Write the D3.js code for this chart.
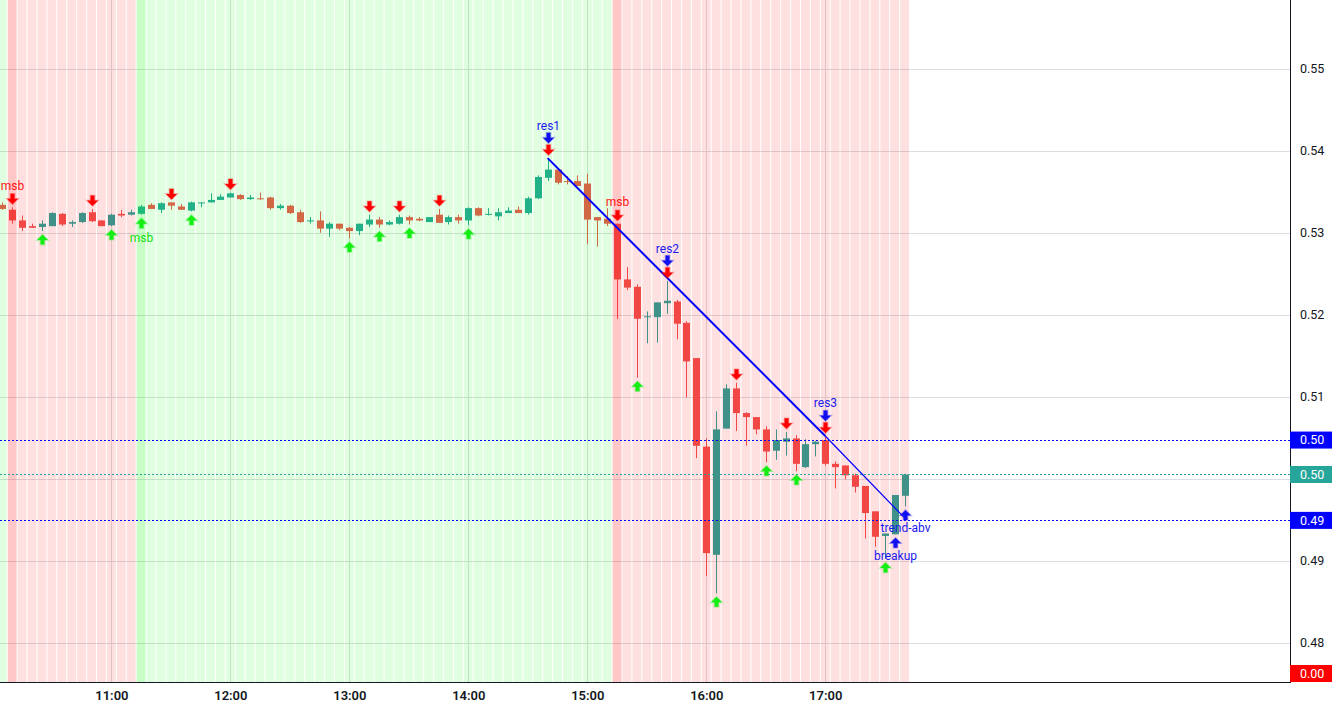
<!DOCTYPE html>
<html><head><meta charset="utf-8">
<script src="https://cdn.jsdelivr.net/npm/d3@7"></script>
<style>
html,body{margin:0;padding:0;background:#fff;}
svg{display:block;font-family:Roboto,"Noto Sans",sans-serif;}
</style>
</head><body>
<svg id="c" width="1338" height="710"></svg>
<script>
// ---------------- DATA ----------------
const firstBar = "2024-01-02 10:05";
const barMinutes = 5;
const opens = [
0.5334,0.5328,0.5315,0.5308,0.5307,0.5308,0.5323,0.5311,0.5313,0.5325,
0.5315,0.5309,0.5323,0.5322,0.5323,0.5334,0.5328,0.5337,0.5332,0.5327,
0.5336,0.5337,0.5340,0.5343,0.5346,0.5341,0.5342,0.5343,0.5330,0.5333,
0.5325,0.5314,0.5315,0.5305,0.5311,0.5306,0.5302,0.5310,0.5316,0.5310,
0.5311,0.5319,0.5317,0.5313,0.5322,0.5313,0.5319,0.5315,0.5330,0.5322,
0.5320,0.5324,0.5328,0.5324,0.5342,0.5367,0.5377,0.5363,0.5363,0.5360,
0.5319,0.5317,0.5311,0.5243,0.5234,0.5197,0.5197,0.5214,0.5216,0.5190,
0.5147,0.5039,0.4907,0.5061,0.5110,0.5080,0.5075,0.5060,0.5034,0.5045,
0.5049,0.5014,0.5042,0.5047,0.5018,0.5016,0.5004,0.4991,0.4960,0.4930,
0.4932,0.4979];
const highs = [
0.5337,0.5331,0.5321,0.5311,0.5315,0.5325,0.5324,0.5315,0.5325,0.5329,
0.5315,0.5323,0.5328,0.5328,0.5334,0.5336,0.5337,0.5337,0.5335,0.5338,
0.5337,0.5348,0.5347,0.5349,0.5347,0.5346,0.5349,0.5344,0.5335,0.5334,
0.5328,0.5319,0.5326,0.5313,0.5311,0.5307,0.5311,0.5322,0.5319,0.5315,
0.5322,0.5321,0.5319,0.5319,0.5329,0.5321,0.5322,0.5331,0.5331,0.5330,
0.5330,0.5331,0.5332,0.5344,0.5370,0.5391,0.5377,0.5369,0.5370,0.5372,
0.5319,0.5330,0.5311,0.5258,0.5237,0.5204,0.5215,0.5241,0.5218,0.5192,
0.5147,0.5049,0.5082,0.5115,0.5117,0.5081,0.5075,0.5064,0.5060,0.5057,
0.5053,0.5048,0.5046,0.5052,0.5021,0.5016,0.5006,0.4991,0.4960,0.4933,
0.4980,0.5006];
const lows = [
0.5328,0.5311,0.5302,0.5306,0.5302,0.5308,0.5308,0.5307,0.5312,0.5313,
0.5308,0.5308,0.5319,0.5321,0.5322,0.5329,0.5324,0.5328,0.5328,0.5326,
0.5331,0.5337,0.5340,0.5343,0.5340,0.5340,0.5340,0.5328,0.5328,0.5323,
0.5312,0.5311,0.5300,0.5295,0.5303,0.5293,0.5297,0.5307,0.5306,0.5309,
0.5310,0.5310,0.5314,0.5313,0.5312,0.5310,0.5311,0.5309,0.5320,0.5321,
0.5315,0.5324,0.5324,0.5322,0.5341,0.5363,0.5359,0.5359,0.5357,0.5286,
0.5283,0.5308,0.5195,0.5230,0.5123,0.5165,0.5166,0.5201,0.5170,0.5099,
0.5025,0.4881,0.4860,0.5061,0.5058,0.5040,0.5054,0.5020,0.5023,0.5028,
0.5009,0.5013,0.5027,0.5016,0.4988,0.4999,0.4983,0.4927,0.4917,0.4902,
0.4932,0.4966];
const closes = [
0.5329,0.5315,0.5306,0.5306,0.5311,0.5324,0.5310,0.5313,0.5324,0.5314,
0.5308,0.5322,0.5321,0.5325,0.5332,0.5329,0.5336,0.5333,0.5328,0.5337,
0.5337,0.5340,0.5344,0.5348,0.5341,0.5343,0.5341,0.5330,0.5333,0.5324,
0.5313,0.5315,0.5305,0.5311,0.5305,0.5302,0.5311,0.5316,0.5310,0.5313,
0.5319,0.5315,0.5315,0.5319,0.5312,0.5319,0.5315,0.5330,0.5321,0.5323,
0.5325,0.5327,0.5324,0.5342,0.5368,0.5377,0.5361,0.5362,0.5357,0.5316,
0.5315,0.5311,0.5243,0.5233,0.5195,0.5198,0.5215,0.5217,0.5189,0.5143,
0.5040,0.4909,0.5060,0.5110,0.5080,0.5075,0.5060,0.5033,0.5047,0.5049,
0.5018,0.5042,0.5045,0.5018,0.5014,0.5004,0.4990,0.4958,0.4929,0.4933,
0.4980,0.5005];

// background regime: bar index where each zone starts, its direction, and whether the start bar is highlighted
const zoneStart = [0, 1, 14, 62];
const zoneDir = ["up", "down", "up", "down"];
const zoneFlash = [false, true, true, true];

// signal markers (bar indices)
const redDownBars = [1, 9, 17, 23, 37, 40, 44, 55, 62, 67, 74, 79, 83];
const greenUpBars = [4, 11, 14, 19, 35, 38, 41, 47, 64, 72, 77, 80, 89];
const resBars = [55, 67, 83];
const resLabels = ["res1", "res2", "res3"];
const msbDownBars = [1, 62];
const msbUpBars = [14];
const blueUpBars = [90, 91];
const blueUpLabels = ["breakup", "trend-abv"];

// trend line anchors
const trendBars = [55, 83, 91];
const trendPrices = [0.5391, 0.5052, 0.4952];

// horizontal price levels
const levelValues = [0.5047, 0.5005, 0.4949, 0.0];
const levelKinds = ["blue", "teal", "blue", "red"];

const yTicks = [0.55, 0.54, 0.53, 0.52, 0.51, 0.50, 0.49, 0.48];
const timeTicks = ["11:00", "12:00", "13:00", "14:00", "15:00", "16:00", "17:00"];

// ---------------- LAYOUT ----------------
const W = 1338, H = 710;
const plotW = 1290, plotH = 682;
const barStep = 9.915, firstBarX = 2.3;
const colors = {up: "#26a69a", down: "#ef5350", blue: "#0000ff", teal: "#26a69a", red: "#ff0000",
  arrowRed: "#ff0000", arrowGreen: "#14ee14", arrowBlue: "#1010f0",
  textRed: "#ff1010", textGreen: "#10e010", textBlue: "#1a1af0", axis: "#131722", grid: "#dcdde0"};

const svg = d3.select("#c");
const parse = d3.timeParse("%Y-%m-%d %H:%M");
const t0 = parse(firstBar);
const n = closes.length;
const times = d3.range(n).map(i => d3.timeMinute.offset(t0, i * barMinutes));
const msPerPx = barMinutes * 60000 / barStep;
const x = d3.scaleTime()
  .domain([new Date(+t0 - firstBarX * msPerPx), new Date(+t0 + (plotW - firstBarX) * msPerPx)])
  .range([0, plotW]);
const y = d3.scaleLinear().domain([0.48, 0.55]).range([642.5, 68.8]);
const xi = i => x(times[i]);

svg.append("rect").attr("width", W).attr("height", H).attr("fill", "#fff");
const defs = svg.append("defs");
defs.append("clipPath").attr("id", "plot").append("rect").attr("width", plotW).attr("height", plotH);
const plot = svg.append("g").attr("clip-path", "url(#plot)");

// grid
const dayStr = firstBar.slice(0, 10);
const tickDates = timeTicks.map(s => parse(dayStr + " " + s));
plot.append("g").selectAll("line.h").data(yTicks).join("line")
  .attr("x1", 0).attr("x2", plotW)
  .attr("y1", d => Math.round(y(d)) + 0.5).attr("y2", d => Math.round(y(d)) + 0.5)
  .attr("stroke", colors.grid).attr("stroke-width", 1);
plot.append("g").selectAll("line.v").data(tickDates).join("line")
  .attr("x1", d => Math.round(x(d)) + 0.5).attr("x2", d => Math.round(x(d)) + 0.5)
  .attr("y1", 0).attr("y2", plotH)
  .attr("stroke", colors.grid).attr("stroke-width", 1);

// candles
const bars = d3.range(n).map(i => ({i, o: opens[i], h: highs[i], l: lows[i], c: closes[i]}));
const bodyW = 7;
const cg = plot.append("g");
cg.selectAll("line").data(bars).join("line")
  .attr("x1", d => Math.round(xi(d.i)) + 0.5).attr("x2", d => Math.round(xi(d.i)) + 0.5)
  .attr("y1", d => y(d.h)).attr("y2", d => y(d.l))
  .attr("stroke", d => d.c >= d.o ? colors.up : colors.down).attr("stroke-width", 1);
cg.selectAll("rect").data(bars).join("rect")
  .attr("x", d => Math.round(xi(d.i)) + 0.5 - bodyW / 2)
  .attr("y", d => y(Math.max(d.o, d.c)))
  .attr("width", bodyW)
  .attr("height", d => Math.max(1, Math.abs(y(d.o) - y(d.c))))
  .attr("fill", d => d.c >= d.o ? colors.up : colors.down);

// background regime overlay (drawn translucent over candles)
const zoneOfBar = d3.range(n).map(i => {
  let z = 0; zoneStart.forEach((s, k) => { if (i >= s) z = k; }); return z;
});
plot.append("g").selectAll("rect").data(d3.range(n)).join("rect")
  .attr("x", i => xi(i) - barStep / 2 + 0.5)
  .attr("y", 0).attr("width", barStep - 1).attr("height", plotH)
  .attr("fill", i => zoneDir[zoneOfBar[i]] === "up" ? "#00ff00" : "#ff0000")
  .attr("fill-opacity", i => (zoneFlash[zoneOfBar[i]] && zoneStart[zoneOfBar[i]] === i) ? 0.22 : 0.12);

// price level lines
const levelColor = k => k === "blue" ? colors.blue : k === "teal" ? colors.teal : colors.red;
plot.append("g").selectAll("line").data(levelValues.map((v, k) => ({v, k: levelKinds[k]}))).join("line")
  .attr("x1", 0).attr("x2", plotW)
  .attr("y1", d => Math.round(y(d.v)) + 0.5).attr("y2", d => Math.round(y(d.v)) + 0.5)
  .attr("stroke", d => levelColor(d.k)).attr("stroke-width", 1).attr("stroke-dasharray", "2,2");

// trend line
const tl = d3.line().x(d => xi(d[0])).y(d => y(d[1]));
const tp = trendBars.map((b, k) => [b, trendPrices[k]]);
plot.append("path").attr("d", tl(tp.slice(0, 2))).attr("fill", "none")
  .attr("stroke", colors.blue).attr("stroke-width", 2);
plot.append("path").attr("d", tl(tp.slice(1))).attr("fill", "none")
  .attr("stroke", colors.blue).attr("stroke-width", 1.2);

// arrows
const downArrow = (cx, tip) => `M${cx - 2},${tip - 10}h4v5h3.5l-5.5,5.5l-5.5,-5.5h3.5z`;
const upArrow = (cx, tip) => `M${cx},${tip}l5.5,5.5h-3.5v4.5h-4v-4.5h-3.5z`;
const mg = svg.append("g");
const gap = 3.5;
function arrows(list, fn, color) {
  mg.append("g").selectAll("path").data(list).join("path")
    .attr("d", fn).attr("fill", color)
    .attr("stroke", color).attr("stroke-opacity", 0.3).attr("stroke-width", 1.6);
}
arrows(redDownBars, i => downArrow(Math.round(xi(i)) + 0.5, y(highs[i]) - gap), colors.arrowRed);
arrows(greenUpBars, i => upArrow(Math.round(xi(i)) + 0.5, y(lows[i]) + gap), colors.arrowGreen);
arrows(resBars, i => downArrow(Math.round(xi(i)) + 0.5, y(highs[i]) - gap - 12), colors.arrowBlue);
arrows(blueUpBars, i => upArrow(Math.round(xi(i)) + 0.5, y(lows[i]) + gap), colors.arrowBlue);

// labels
function labels(list, texts, yfn, color) {
  mg.append("g").selectAll("text").data(list).join("text")
    .attr("x", i => Math.round(xi(i)) + 0.5).attr("y", yfn)
    .attr("text-anchor", "middle").attr("font-size", 12).attr("fill", color)
    .text((i, k) => texts[k]);
}
labels(resBars, resLabels, i => y(highs[i]) - gap - 12 - 10 - 3, colors.textBlue);
labels(msbDownBars, msbDownBars.map(() => "msb"), i => y(highs[i]) - gap - 10 - 4, colors.textRed);
labels(msbUpBars, msbUpBars.map(() => "msb"), i => y(lows[i]) + gap + 10 + 13.5, colors.textGreen);
labels(blueUpBars, blueUpLabels, i => y(lows[i]) + gap + 10 + 12.5, colors.textBlue);

// axes
svg.append("line").attr("x1", plotW + 0.5).attr("x2", plotW + 0.5).attr("y1", 0).attr("y2", plotH + 1)
  .attr("stroke", colors.axis).attr("stroke-width", 1);
svg.append("line").attr("x1", 0).attr("x2", plotW + 1).attr("y1", plotH + 0.5).attr("y2", plotH + 0.5)
  .attr("stroke", colors.axis).attr("stroke-width", 1);

// positions of the level labels on the price scale (clamped into view)
const levelY = levelValues.map(v => Math.min(Math.max(y(v), 8.5), plotH - 8.5));

const yAxis = svg.append("g").attr("transform", `translate(${plotW},0)`)
  .call(d3.axisRight(y).tickValues(yTicks).tickFormat(d3.format(".2f")).tickSize(0).tickPadding(10));
yAxis.select(".domain").remove();
yAxis.selectAll("text").attr("font-size", 12.5).attr("fill", colors.axis)
  .attr("font-family", "Roboto,'Noto Sans',sans-serif");
// ticks hidden behind a level label (as on the price scale)
yAxis.selectAll(".tick").filter(d => levelY.some(ly => Math.abs(ly - y(d)) < 14)).remove();

const xAxis = svg.append("g").attr("transform", `translate(0,${plotH})`)
  .call(d3.axisBottom(x).tickValues(tickDates).tickFormat(d3.timeFormat("%H:%M")).tickSize(0).tickPadding(9));
xAxis.select(".domain").remove();
xAxis.selectAll("text").attr("font-size", 13).attr("font-weight", 600).attr("fill", colors.axis)
  .attr("font-family", "Roboto,'Noto Sans',sans-serif");

// level labels
const lg = svg.append("g");
const fmt = d3.format(".2f");
levelValues.forEach((v, k) => {
  const cy = levelY[k];
  const col = levelColor(levelKinds[k]);
  lg.append("rect").attr("x", plotW).attr("y", cy - 8.5).attr("width", 42).attr("height", 17).attr("fill", col);
  lg.append("text").attr("x", plotW + 10).attr("y", cy).attr("dy", "0.35em")
    .attr("font-size", 12.5).attr("fill", "#fff").text(fmt(v));
});
</script>
</body></html>
